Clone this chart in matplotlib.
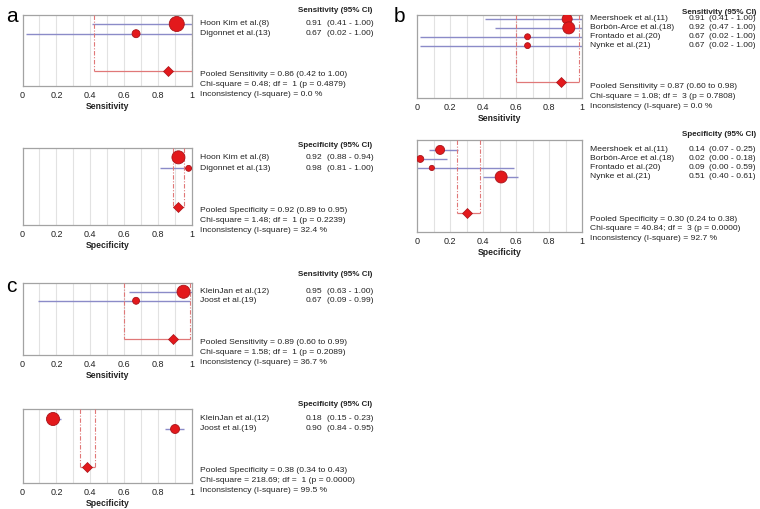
import matplotlib
matplotlib.use("Agg")
import matplotlib.pyplot as plt
import matplotlib.transforms as mtransforms

plt.rcParams['font.family'] = ['Liberation Sans', 'DejaVu Sans']

W, H = 760, 509

# ---- panel a ----
a_sens_studies = ["Hoon Kim et al.(8)", "Digonnet et al.(13)"]
a_sens_est = [0.91, 0.67]
a_sens_lo = [0.41, 0.02]
a_sens_hi = [1.00, 1.00]
a_sens_weight = [78, 22]
a_sens_pooled = [0.86, 0.42, 1.00]
a_sens_stats = ["0.48", 1, "0.4879", "0.0"]

a_spec_studies = ["Hoon Kim et al.(8)", "Digonnet et al.(13)"]
a_spec_est = [0.92, 0.98]
a_spec_lo = [0.88, 0.81]
a_spec_hi = [0.94, 1.00]
a_spec_weight = [83, 17]
a_spec_pooled = [0.92, 0.89, 0.95]
a_spec_stats = ["1.48", 1, "0.2239", "32.4"]

# ---- panel b ----
b_sens_studies = ["Meershoek et al.(11)", "Borbón-Arce et al.(18)",
                  "Frontado et al.(20)", "Nynke et al.(21)"]
b_sens_est = [0.91, 0.92, 0.67, 0.67]
b_sens_lo = [0.41, 0.47, 0.02, 0.02]
b_sens_hi = [1.00, 1.00, 1.00, 1.00]
b_sens_weight = [32, 46, 11, 11]
b_sens_pooled = [0.87, 0.60, 0.98]
b_sens_stats = ["1.08", 3, "0.7808", "0.0"]

b_spec_studies = ["Meershoek et al.(11)", "Borbón-Arce et al.(18)",
                  "Frontado et al.(20)", "Nynke et al.(21)"]
b_spec_est = [0.14, 0.02, 0.09, 0.51]
b_spec_lo = [0.07, 0.00, 0.00, 0.40]
b_spec_hi = [0.25, 0.18, 0.59, 0.61]
b_spec_weight = [27, 16, 9, 48]
b_spec_pooled = [0.30, 0.24, 0.38]
b_spec_stats = ["40.84", 3, "0.0000", "92.7"]

# ---- panel c ----
c_sens_studies = ["KleinJan et al.(12)", "Joost et al.(19)"]
c_sens_est = [0.95, 0.67]
c_sens_lo = [0.63, 0.09]
c_sens_hi = [1.00, 0.99]
c_sens_weight = [78, 22]
c_sens_pooled = [0.89, 0.60, 0.99]
c_sens_stats = ["1.58", 1, "0.2089", "36.7"]

c_spec_studies = ["KleinJan et al.(12)", "Joost et al.(19)"]
c_spec_est = [0.18, 0.90]
c_spec_lo = [0.15, 0.84]
c_spec_hi = [0.23, 0.95]
c_spec_weight = [68, 32]
c_spec_pooled = [0.38, 0.34, 0.43]
c_spec_stats = ["218.69", 1, "0.0000", "99.5"]

tick_vals = [0, 0.2, 0.4, 0.6, 0.8, 1]
tick_labels = ["0", "0.2", "0.4", "0.6", "0.8", "1"]

MARK = '#e3191c'
MARK_EDGE = '#a8141a'
CI_COL = '#8b8bc8'
POOL_COL = '#e07878'
GRID_COL = '#e2e2e2'
FRAME_COL = '#a3a3a3'
TXT = '#222222'
FS = 6.1

# layout: box (l, t, r, b) px, ylim (bottom, top), pooled row, header y, pooled text y,
# text columns (name x, number right x, ci x, header right x)
left_cols = (200, 322, 327, 372)
right_cols = (590, 705, 709, 756)

panels = [
    ("Sensitivity", a_sens_studies, a_sens_est, a_sens_lo, a_sens_hi, a_sens_weight,
     a_sens_pooled, a_sens_stats,
     (22.5, 14.7, 192, 86), (7.4, 0.04), 5.85, 10, 75, left_cols, 150),
    ("Specificity", a_spec_studies, a_spec_est, a_spec_lo, a_spec_hi, a_spec_weight,
     a_spec_pooled, a_spec_stats,
     (22.5, 148, 192, 225), (7.15, 0.15), 5.5, 145, 211, left_cols, 106),
    ("Sensitivity", b_sens_studies, b_sens_est, b_sens_lo, b_sens_hi, b_sens_weight,
     b_sens_pooled, b_sens_stats,
     (417, 15, 582, 98), (9.9, 0.55), 8.1, 13, 87, right_cols, 164),
    ("Specificity", b_spec_studies, b_spec_est, b_spec_lo, b_spec_hi, b_spec_weight,
     b_spec_pooled, b_spec_stats,
     (417, 140, 582, 232), (10.1, -0.1), 8.0, 135, 219, right_cols, 155),
    ("Sensitivity", c_sens_studies, c_sens_est, c_sens_lo, c_sens_hi, c_sens_weight,
     c_sens_pooled, c_sens_stats,
     (22.5, 283, 192, 355), (8.0, 0.03), 6.2, 275, 343, left_cols, 113),
    ("Specificity", c_spec_studies, c_spec_est, c_spec_lo, c_spec_hi, c_spec_weight,
     c_spec_pooled, c_spec_stats,
     (22.5, 409, 192, 483), (7.4, 0.0), 5.8, 405, 471, left_cols, 130),
]

fig = plt.figure(figsize=(W / 100, H / 100), dpi=100)


def fx(x):
    return x / W


def fy(y):
    return 1 - y / H


for (measure, studies, est, lo, hi, weight, pooled, stats,
     box, ylim, prow, head_y, pool_y, cols, area) in panels:
    l, t, r, b = box
    ax = fig.add_axes([fx(l), fy(b), (r - l) / W, (b - t) / H])
    ax.set_xlim(0, 1)
    ax.set_ylim(*ylim)
    rows = list(range(1, len(studies) + 1))

    for g in [0.1, 0.2, 0.3, 0.4, 0.5, 0.6, 0.7, 0.8, 0.9]:
        ax.axvline(g, color=GRID_COL, lw=0.8, zorder=0)

    ax.hlines(rows, lo, hi, color=CI_COL, lw=1.0, zorder=2)
    sizes = [w / 100 * area for w in weight]
    ax.scatter(est, rows, s=sizes, color=MARK, edgecolor=MARK_EDGE, lw=0.6, zorder=4)

    # pooled estimate
    ax.vlines([pooled[1], pooled[2]], ylim[1], prow, color=POOL_COL, lw=0.8,
              linestyles=(0, (4, 1.5, 1, 1.5)), zorder=3)
    ax.hlines(prow, pooled[1], pooled[2], color=POOL_COL, lw=0.9, zorder=3)
    ax.plot(pooled[0], prow, marker='D', ms=5, color=MARK, mec=MARK_EDGE, mew=0.5, zorder=5)

    for s in ax.spines.values():
        s.set_color(FRAME_COL)
        s.set_linewidth(0.9)
    ax.set_yticks([])
    ax.set_xticks(tick_vals)
    ax.set_xticklabels(tick_labels)
    ax.tick_params(axis='x', length=0, pad=3.5, labelsize=6.5, colors=TXT)
    ax.set_xlabel(measure, fontsize=6.2, fontweight='bold', labelpad=1.5, color=TXT)

    name_x, num_x, ci_x, head_x = cols
    tr = mtransforms.blended_transform_factory(fig.transFigure, ax.transData)
    for i, name in enumerate(studies):
        ax.text(fx(name_x), rows[i], name, transform=tr, fontsize=FS, va='center', color=TXT)
        ax.text(fx(num_x), rows[i], f"{est[i]:.2f}", transform=tr, fontsize=FS,
                va='center', ha='right', color=TXT)
        ax.text(fx(ci_x), rows[i], f"({lo[i]:.2f} - {hi[i]:.2f})", transform=tr,
                fontsize=FS, va='center', color=TXT)

    fig.text(fx(head_x), fy(head_y), f"{measure} (95% CI)", fontsize=5.8,
             fontweight='bold', ha='right', va='center', color=TXT)
    chi, df, p, isq = stats
    lines = [f"Pooled {measure} = {pooled[0]:.2f} ({pooled[1]:.2f} to {pooled[2]:.2f})",
             f"Chi-square = {chi}; df =  {df} (p = {p})",
             f"Inconsistency (I-square) = {isq} %"]
    for k, line in enumerate(lines):
        fig.text(fx(name_x), fy(pool_y + k * 9.6), line, fontsize=FS, va='center', color=TXT)

fig.text(fx(6), fy(17), "a", fontsize=15, va='center')
fig.text(fx(394), fy(17), "b", fontsize=15, va='center')
fig.text(fx(6), fy(286), "c", fontsize=15, va='center')

fig.savefig("out.png", dpi=100, facecolor='white')
